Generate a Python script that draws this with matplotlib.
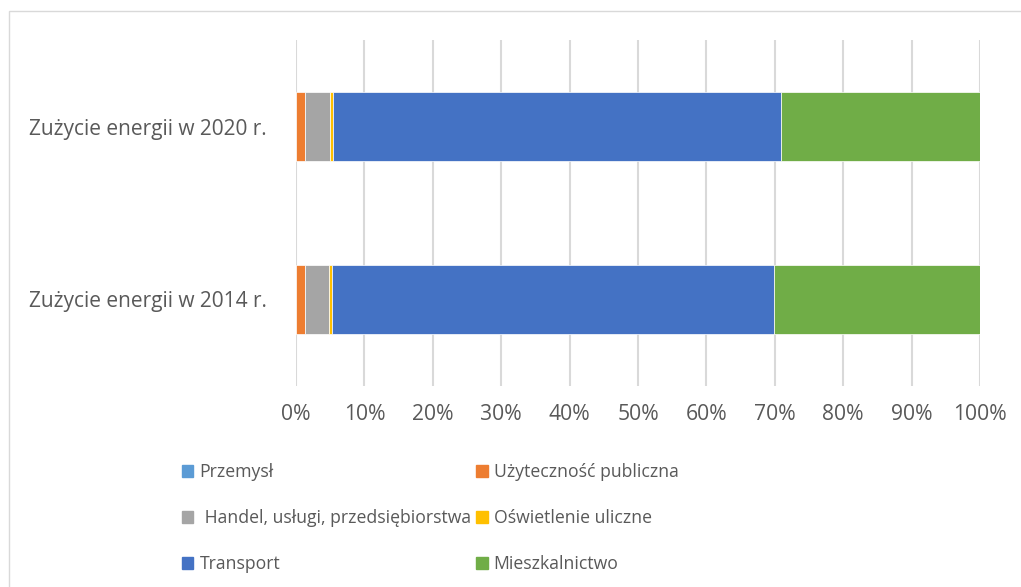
import matplotlib
matplotlib.use("Agg")
import matplotlib.pyplot as plt
from matplotlib.patches import Rectangle, Patch
import numpy as np

categories = ["Zużycie energii w 2014 r.", "Zużycie energii w 2020 r."]
series_names = ["Przemysł", "Użyteczność publiczna", " Handel, usługi, przedsiębiorstwa",
                "Oświetlenie uliczne", "Transport", "Mieszkalnictwo"]
przemysl = [0.0, 0.0]
uzytecznosc = [1.3, 1.25]
handel = [3.57, 3.7]
oswietlenie = [0.43, 0.45]
transport = [64.6, 65.55]
mieszkalnictwo = [30.1, 29.05]
colors = ["#5B9BD5", "#ED7D31", "#A5A5A5", "#FFC000", "#4472C4", "#70AD47"]
xticks = [0, 10, 20, 30, 40, 50, 60, 70, 80, 90, 100]

plt.rcParams['font.family'] = ['Open Sans', 'DejaVu Sans']

fig = plt.figure(figsize=(10.21, 5.87), dpi=100)
W, H = 1021, 587
ax = fig.add_axes([296 / W, 1 - 386 / H, (980 - 296) / W, (386 - 40) / H])

data = [przemysl, uzytecznosc, handel, oswietlenie, transport, mieszkalnictwo]
y = np.arange(len(categories))
left = np.zeros(len(categories))
handles = []
for name, vals, c in zip(series_names, data, colors):
    vals = np.array(vals)
    ax.barh(y, vals, left=left, height=0.4, color=c, edgecolor="white", linewidth=0.5, zorder=3)
    left += vals
    handles.append(Patch(facecolor=c, edgecolor=c, label=name))

ax.set_xlim(0, 100)
ax.set_ylim(-0.5, 1.5)
ax.set_xticks(xticks)
ax.set_xticklabels([f"{v}%" for v in xticks])
ax.set_yticks(y)
ax.set_yticklabels(categories)
ax.grid(axis="x", color="#D9D9D9", linewidth=1.5, zorder=0)
for s in ax.spines.values():
    s.set_visible(False)
ax.tick_params(axis="both", length=0, colors="#595959")
ax.tick_params(axis="x", pad=13, labelsize=15.2)
ax.tick_params(axis="y", pad=21, labelsize=15)

# legend: column-major order
order = [0, 2, 4, 1, 3, 5]
leg = fig.legend([handles[i] for i in order], [series_names[i] for i in order],
                 ncol=2, loc="upper left", bbox_to_anchor=(182 / W, 1 - 463 / H),
                 frameon=False, fontsize=12.7, handlelength=0.65, handleheight=0.65,
                 handletextpad=0.35, columnspacing=0.3, labelspacing=1.6,
                 labelcolor="#595959", borderpad=0, borderaxespad=0)

# chart border
fig.patches.append(Rectangle((9 / W, -0.01), 1.1, 1 - 11 / H + 0.01, transform=fig.transFigure,
                             fill=False, edgecolor="#D9D9D9", linewidth=1.0))

fig.savefig("out.png", dpi=100)
